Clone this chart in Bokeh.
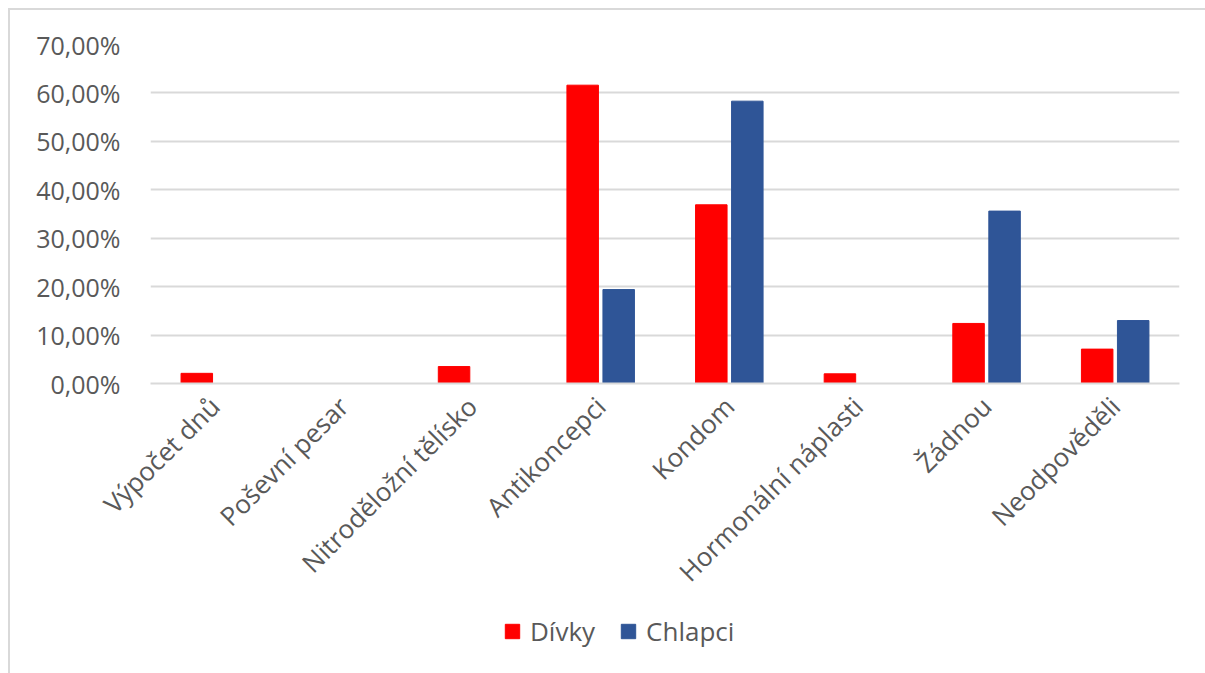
from bokeh.plotting import figure
from bokeh.models import FactorRange, CustomJSTickFormatter, Legend, LegendItem, SingleIntervalTicker, ColumnDataSource
from bokeh.layouts import column
from bokeh.transform import dodge
from bokeh.embed import file_html
from bokeh.resources import INLINE
import math

categories = ["Výpočet dnů", "Poševní pesar", "Nitroděložní tělísko", "Antikoncepci",
              "Kondom", "Hormonální náplasti", "Žádnou", "Neodpověděli"]
divky = [2.1, 0.0, 3.5, 61.6, 36.9, 2.0, 12.4, 7.1]
chlapci = [0.0, 0.0, 0.0, 19.4, 58.3, 0.0, 35.6, 13.0]
series_names = ["Dívky", "Chlapci"]
series_colors = ["#FF0000", "#2F5597"]

FONT = "Open Sans"
TXT = "#595959"

src = ColumnDataSource(dict(cat=categories, divky=divky, chlapci=chlapci))

p = figure(x_range=FactorRange(*categories), y_range=(0, 70),
           width=1195, height=600, output_backend="svg", toolbar_location=None,
           min_border_left=140, min_border_right=26, min_border_top=34, min_border_bottom=227)
p.outline_line_color = None
p.background_fill_color = "white"
p.border_fill_color = "white"

r1 = p.vbar(x=dodge("cat", -0.14, range=p.x_range), top="divky", width=0.245, source=src,
            fill_color=series_colors[0], line_color=series_colors[0])
r2 = p.vbar(x=dodge("cat", 0.14, range=p.x_range), top="chlapci", width=0.245, source=src,
            fill_color=series_colors[1], line_color=series_colors[1])

p.yaxis.ticker = SingleIntervalTicker(interval=10)
p.yaxis.formatter = CustomJSTickFormatter(code="return tick.toFixed(2).replace('.', ',') + '%';")
p.yaxis.axis_line_color = None
p.yaxis.major_tick_line_color = None
p.yaxis.minor_tick_line_color = None
p.yaxis.major_label_text_font = FONT
p.yaxis.major_label_text_font_size = "25px"
p.yaxis.major_label_text_color = TXT
p.yaxis.major_label_standoff = 24

p.xaxis.axis_line_color = "#d9d9d9"
p.xaxis.axis_line_width = 2
p.xaxis.major_tick_line_color = None
p.xaxis.minor_tick_line_color = None
p.xaxis.major_label_orientation = math.pi / 4
p.xaxis.major_label_text_font = FONT
p.xaxis.major_label_text_font_size = "26px"
p.xaxis.major_label_text_color = TXT
p.xaxis.major_label_standoff = 12

p.xgrid.grid_line_color = None
p.ygrid.grid_line_color = "#d9d9d9"
p.ygrid.grid_line_width = 2

# legend strip below the chart
lf = figure(width=1195, height=63, x_range=(0, 1), y_range=(0, 1),
            output_backend="svg", toolbar_location=None,
            min_border_left=0, min_border_right=0, min_border_top=0, min_border_bottom=0)
lf.axis.visible = False
lf.grid.visible = False
lf.outline_line_color = None
lf.border_fill_color = "white"
hidden = ColumnDataSource(dict(x=[-10], top=[0]))
l1 = lf.vbar(x="x", top="top", width=0.1, source=hidden, fill_color=series_colors[0], line_color=series_colors[0])
l2 = lf.vbar(x="x", top="top", width=0.1, source=hidden, fill_color=series_colors[1], line_color=series_colors[1])
legend = Legend(items=[LegendItem(label=series_names[0], renderers=[l1]),
                       LegendItem(label=series_names[1], renderers=[l2])],
                orientation="horizontal", location=(353, 24),
                glyph_width=18, glyph_height=18, label_text_font=FONT,
                label_text_font_size="26px", label_text_color=TXT,
                spacing=24, padding=0, margin=0, border_line_color=None,
                background_fill_alpha=0, label_standoff=9)
lf.add_layout(legend, "center")

layout = column(p, lf, spacing=0)
layout.styles = {"margin-left": "8px", "margin-top": "8px",
                 "border-top": "2px solid #d9d9d9", "border-left": "2px solid #d9d9d9"}

open("out.html", "w").write(file_html(layout, INLINE))
